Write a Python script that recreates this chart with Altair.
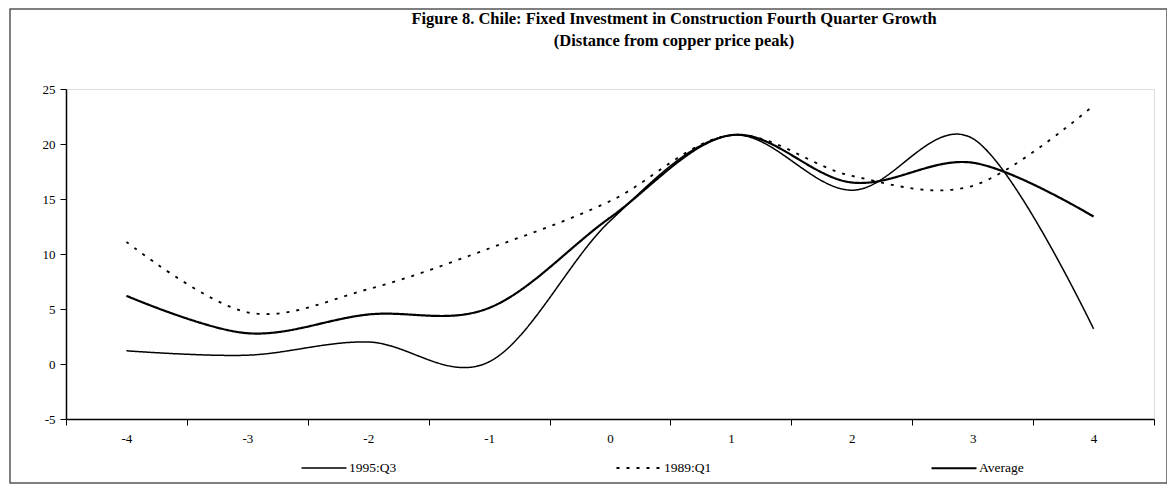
import altair as alt
import pandas as pd

quarters = [-4, -3, -2, -1, 0, 1, 2, 3, 4]
q3_1995 = [1.2, 0.8, 2.0, 0.2, 13.0, 20.8, 15.8, 20.5, 3.2]
q1_1989 = [11.1, 4.7, 6.8, 10.5, 14.8, 20.8, 17.1, 16.2, 23.5]
average = [6.2, 2.8, 4.5, 5.1, 13.3, 20.8, 16.5, 18.3, 13.4]
series_names = ["1995:Q3", "1989:Q1", "Average"]
y_ticks = [-5, 0, 5, 10, 15, 20, 25]
title_lines = [
    "Figure 8. Chile: Fixed Investment in Construction Fourth Quarter Growth",
    "(Distance from copper price peak)",
]

rows = []
for name, vals in zip(series_names, [q3_1995, q1_1989, average]):
    for q, v in zip(quarters, vals):
        rows.append({"q": q, "value": v, "series": name})
df = pd.DataFrame(rows)

FONT = "Liberation Serif"

legend_opts = dict(
    title=None, orient="none", direction="horizontal", columns=3,
    legendX=234, legendY=355, symbolType="stroke", symbolSize=2025,
    symbolStrokeColor="black", labelFont=FONT, labelFontSize=13.5,
    labelColor="black", columnPadding=215, labelOffset=1,
)

lines = alt.Chart(df).mark_line(
    interpolate="cardinal", tension=0, color="black"
).encode(
    x=alt.X(
        "q:O",
        sort=quarters,
        scale=alt.Scale(type="band", paddingInner=0, paddingOuter=0),
        axis=alt.Axis(
            title=None, labelAngle=0, tickBand="extent", tickSize=6,
            tickColor="black", domainColor="black", domainWidth=1.5,
            labelFont=FONT, labelFontSize=13, labelColor="black",
            labelPadding=7,
        ),
    ),
    y=alt.Y(
        "value:Q",
        scale=alt.Scale(domain=[-5, 25], nice=False, zero=False),
        axis=alt.Axis(
            title=None, values=y_ticks, grid=False, tickSize=6,
            tickColor="black", domainColor="black", domainWidth=1.5,
            labelFont=FONT, labelFontSize=13, labelColor="black",
            labelPadding=5, labelExpr="'' + datum.value",
        ),
    ),
    strokeDash=alt.StrokeDash(
        "series:N",
        sort=series_names,
        scale=alt.Scale(domain=series_names, range=[[1, 0], [3, 7], [1, 0]]),
        legend=alt.Legend(**legend_opts),
    ),
    strokeWidth=alt.StrokeWidth(
        "series:N",
        sort=series_names,
        scale=alt.Scale(domain=series_names, range=[1.5, 2.2, 4.5]),
        legend=alt.Legend(**legend_opts),
    ),
    order=alt.Order("q:Q"),
)

frame = alt.Chart(alt.Data(values=[{}])).mark_rect(
    filled=False, stroke="#555555", strokeWidth=1.5
).encode(
    x=alt.value(-56), x2=alt.value(1101), y=alt.value(-80), y2=alt.value(394)
)

chart = alt.layer(frame, lines).properties(
    width=1088,
    height=330,
    padding={"left": 58, "top": 81, "right": 13, "bottom": 66},
    autosize=alt.AutoSizeParams(type="none"),
    title=alt.TitleParams(
        text=title_lines, font=FONT, fontSize=16.5, fontWeight="bold",
        anchor="middle", dx=64, offset=0, dy=41, lineHeight=22, color="black",
    ),
).configure_view(stroke="black", strokeWidth=1.5).configure(background="white")

chart.save("out.html", embed_options={"renderer": "svg", "actions": False})
